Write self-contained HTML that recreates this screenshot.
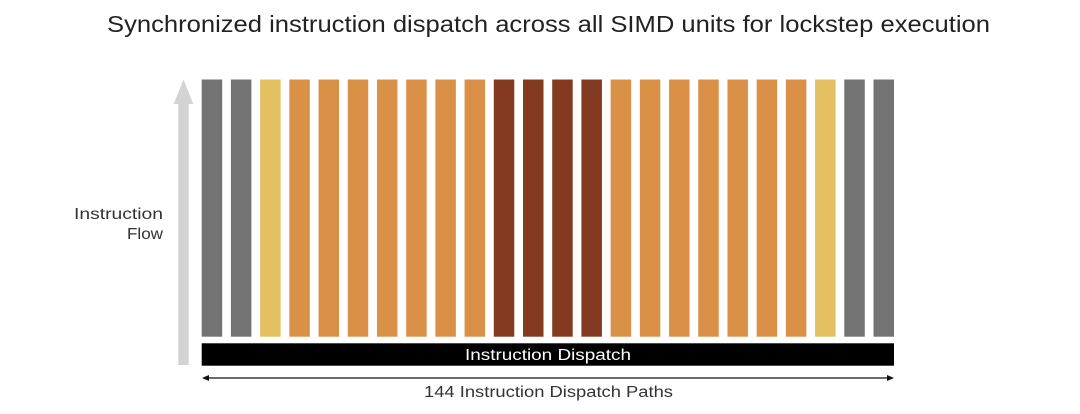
<!DOCTYPE html>
<html><head><meta charset="utf-8">
<style>
html,body{margin:0;padding:0;background:#fff;}
body{width:1080px;height:409px;overflow:hidden;font-family:"Liberation Sans",sans-serif;}
</style></head>
<body>
<svg id="chart" width="1080" height="409" xmlns="http://www.w3.org/2000/svg">
  <text x="107" y="32" font-size="23" fill="#222" textLength="883" lengthAdjust="spacingAndGlyphs">Synchronized instruction dispatch across all SIMD units for lockstep execution</text>
  <g>
    <rect x="178.3" y="103" width="10.4" height="262" fill="#d3d3d3"/>
    <polygon points="183.5,79.5 173.7,104 193.3,104" fill="#d3d3d3"/>
  </g>
  <text font-size="15.5" fill="#333"><tspan x="74" y="219" textLength="89" lengthAdjust="spacingAndGlyphs">Instruction</tspan><tspan x="127" y="239" textLength="36" lengthAdjust="spacingAndGlyphs">Flow</tspan></text>
  <g id="bars"></g>
  <rect x="201.7" y="343.3" width="692.3" height="22.4" fill="#000"/>
  <text x="465" y="360" font-size="15.5" fill="#fff" textLength="166" lengthAdjust="spacingAndGlyphs">Instruction Dispatch</text>
  <g>
    <line x1="206" y1="378" x2="890" y2="378" stroke="#111" stroke-width="1.2"/>
    <polygon points="202,378 209,375 209,381" fill="#111"/>
    <polygon points="894,378 887,375 887,381" fill="#111"/>
  </g>
  <text x="424" y="397" font-size="15.5" fill="#333" textLength="249" lengthAdjust="spacingAndGlyphs">144 Instruction Dispatch Paths</text>
</svg>
<script>
const unitTypes = ["gray","gray","yellow","orange","orange","orange","orange","orange","orange","orange","brown","brown","brown","brown","orange","orange","orange","orange","orange","orange","orange","yellow","gray","gray"];
const typeColors = {gray:"#737373",yellow:"#e5c062",orange:"#db9048",brown:"#843a20"};
const barX0 = 201.7, barX1 = 894, barTop = 79.5, barBottom = 336.7, barW = 20.5;
const pitch = (barX1 - barX0 - barW) / (unitTypes.length - 1);
const barGroup = document.getElementById('bars');
unitTypes.forEach((t, i) => {
  const r = document.createElementNS('http://www.w3.org/2000/svg', 'rect');
  r.setAttribute('x', barX0 + i * pitch);
  r.setAttribute('y', barTop);
  r.setAttribute('width', barW);
  r.setAttribute('height', barBottom - barTop);
  r.setAttribute('fill', typeColors[t]);
  
  
  barGroup.appendChild(r);
});
</script>
</body></html>
